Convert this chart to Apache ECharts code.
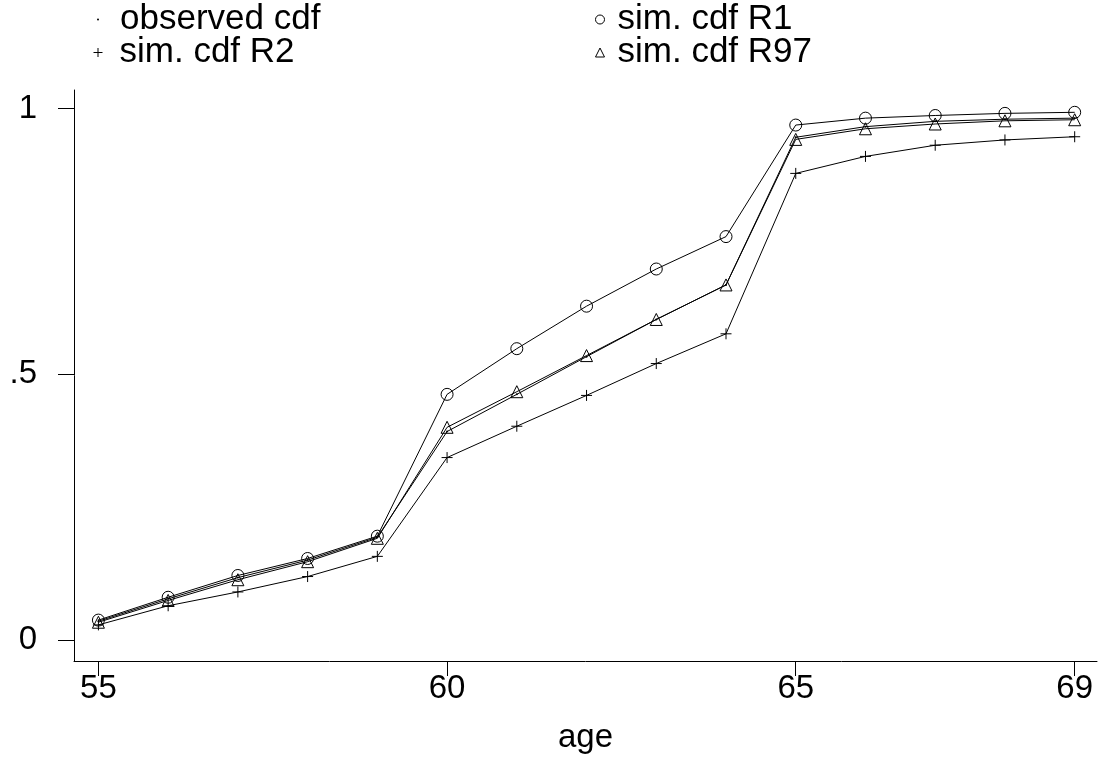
<!DOCTYPE html>
<html>
<head>
<meta charset="utf-8">
<script src="https://cdn.jsdelivr.net/npm/echarts@6/dist/echarts.min.js"></script>
<style>
html,body{margin:0;padding:0;background:#fff;}
#chart{width:1105px;height:759px;}
</style>
</head>
<body>
<div id="chart"></div>
<script>
var ages = [55,56,57,58,59,60,61,62,63,64,65,66,67,68,69];
var observedCdf = [0.035,0.077,0.117,0.150,0.193,0.392,0.462,0.533,0.603,0.668,0.946,0.966,0.976,0.980,0.982];
var simR1 = [0.037,0.080,0.121,0.153,0.195,0.462,0.548,0.628,0.698,0.759,0.969,0.982,0.987,0.991,0.993];
var simR2 = [0.028,0.064,0.090,0.119,0.157,0.343,0.402,0.460,0.520,0.576,0.878,0.910,0.931,0.941,0.947];
var simR97 = [0.033,0.074,0.113,0.147,0.191,0.400,0.467,0.535,0.603,0.668,0.942,0.962,0.971,0.977,0.979];
var xTicks = [55,60,65,69];
var yTicks = [0,0.5,1];
var yTickLabels = ['0','.5','1'];
var seriesNames = ['observed cdf','sim. cdf R1','sim. cdf R2','sim. cdf R97'];

var FONT = 'Liberation Sans, Arial, Helvetica, sans-serif';
var FS_AXIS = 33;
var FS_LEG = 35;
var plusPath = 'path://M0,5L10,5M5,0L5,10';

function pairs(vals){ return ages.map(function(a,i){return [a, vals[i]];}); }

var markerStyle = {color:'rgba(0,0,0,0)', borderColor:'#000', borderWidth:1};

function mkSeries(name, vals, symbol, size, style){
  return {
    name:name, type:'line', data:pairs(vals),
    symbol:symbol, symbolSize:size, showSymbol:true,
    lineStyle:{color:'#000', width:1},
    itemStyle:style, emphasis:{disabled:true}, animation:false, z: 2
  };
}

function mkLegend(name, icon, size, left, top, style, pad){
  return {
    data:[{name:name, icon:icon, itemStyle:style}],
    left:left, top:top, itemWidth:size, itemHeight:size,
    selectedMode:false, itemGap:0,
    textStyle:{fontFamily:FONT, fontSize:FS_LEG, color:'#000', padding:[0,0,0,pad]}
  };
}

var chart = echarts.init(document.getElementById('chart'), null, {renderer:'canvas'});
chart.setOption({
  backgroundColor:'#fff',
  animation:false,
  grid:{left:74, right:8, top:90, bottom:81, containLabel:false},
  legend:[
    mkLegend(seriesNames[0], 'circle', 2, 92, -3, {color:'#000', borderWidth:0}, 16),
    mkLegend(seriesNames[2], plusPath, 9, 88, 30, {color:'rgba(0,0,0,0)', borderColor:'#000', borderWidth:1}, 12),
    mkLegend(seriesNames[1], 'circle', 9, 590, -3, markerStyle, 8),
    mkLegend(seriesNames[3], 'triangle', 9, 590, 30, markerStyle, 8)
  ],
  xAxis:{
    type:'value', min:54.65, max:69.32,
    name:'age', nameLocation:'middle', nameGap:60,
    nameTextStyle:{fontFamily:FONT, fontSize:FS_AXIS, color:'#000'},
    axisLine:{onZero:false, lineStyle:{color:'#000', width:1}},
    axisTick:{show:true, inside:false, length:15, customValues:xTicks, lineStyle:{color:'#000'}},
    axisLabel:{customValues:xTicks, fontFamily:FONT, fontSize:FS_AXIS, color:'#000', margin:11},
    splitLine:{show:false}
  },
  yAxis:{
    type:'value', min:-0.04, max:1.035,
    axisLine:{show:true, onZero:false, lineStyle:{color:'#000', width:1}},
    axisTick:{show:true, inside:false, length:16, customValues:yTicks, lineStyle:{color:'#000'}},
    axisLabel:{customValues:yTicks, fontFamily:FONT, fontSize:FS_AXIS, color:'#000', margin:37,
      formatter:function(v){ var i = yTicks.indexOf(v); return i>=0 ? yTickLabels[i] : ''; }},
    splitLine:{show:false}
  },
  series:[
    mkSeries(seriesNames[0], observedCdf, 'circle', 2, {color:'#000'}),
    mkSeries(seriesNames[1], simR1, 'circle', 12, markerStyle),
    mkSeries(seriesNames[2], simR2, plusPath, 11, {color:'rgba(0,0,0,0)', borderColor:'#000', borderWidth:1}),
    mkSeries(seriesNames[3], simR97, 'triangle', 12, markerStyle)
  ]
});
</script>
</body>
</html>
